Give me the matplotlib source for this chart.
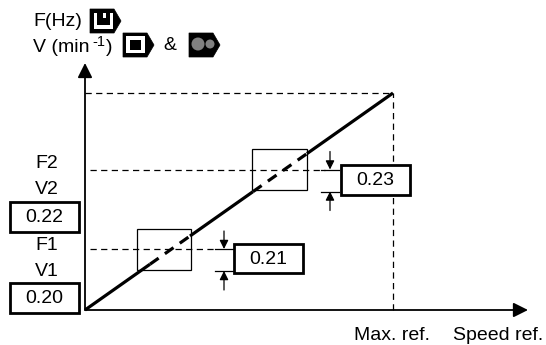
import matplotlib
matplotlib.use("Agg")
import matplotlib.pyplot as plt
from matplotlib.patches import Rectangle, Polygon, Circle

plt.rcParams['font.family'] = ['Liberation Sans', 'DejaVu Sans']

# Values measured from the origin of the chart, in picture pixels
max_ref = 308
max_out = 217
f1_level = 61
f2_level = 140.5
line_cuts = [0, 65, 105, 168, 222, 308]   # solid / dashed / solid / dashed / solid
param_f1v1 = "0.20"
param_f2v2 = "0.22"
param_lower = "0.21"
param_upper = "0.23"
left_labels = ["F2", "V2", "F1", "V1"]

slope = max_out / max_ref

fig = plt.figure(figsize=(5.46, 3.45), dpi=100)
ax = fig.add_axes([0, 0, 1, 1])
ax.set_xlim(-85, 461)
ax.set_ylim(-35, 310)
ax.axis('off')

TXT = 14


def arrow(x0, y0, x1, y1, lw=1.2, ms=14):
    ax.annotate("", xy=(x1, y1), xytext=(x0, y0),
                arrowprops=dict(arrowstyle="-|>", color='black', lw=lw,
                                mutation_scale=ms, shrinkA=0, shrinkB=0))


def value_box(x, y, w, h, txt):
    ax.add_patch(Rectangle((x, y), w, h, fc='white', ec='black', lw=2, zorder=4))
    ax.text(x + w / 2, y + h / 2 - 0.5, txt, ha='center', va='center', fontsize=TXT, zorder=5)


def flag(x, y, face):
    # pentagon shaped key symbol
    w, h, tip = 31, 24, 7
    ax.add_patch(Polygon([(x, y), (x + w - tip, y), (x + w, y + h / 2),
                          (x + w - tip, y + h), (x, y + h)], closed=True,
                         fc=face, ec='black', lw=0.5, zorder=3))


# axes
arrow(0, 0, 443, 0, lw=1.3, ms=22)
arrow(0, 0, 0, 247, lw=1.3, ms=22)

# dashed guides
ax.plot([0, max_ref], [max_out, max_out], color='black', lw=0.9, ls=(0, (5, 3.5)))
ax.plot([max_ref, max_ref], [0, max_out], color='black', lw=0.9, ls=(0, (5, 3.5)))
ax.plot([5, 131], [f1_level, f1_level], color='black', lw=0.9, ls=(0, (5, 3.5)))
ax.plot([5, 240], [f2_level, f2_level], color='black', lw=0.9, ls=(0, (5, 3.5)))

# hysteresis boxes around the skip levels
for level, x0 in [(f1_level, 51.5), (f2_level, 167)]:
    ax.add_patch(Rectangle((x0, level - 20.5), 54.5, 41, fc='none', ec='black', lw=0.9, zorder=2))

# speed curve, solid and dashed parts
for i in range(len(line_cuts) - 1):
    xs = [line_cuts[i], line_cuts[i + 1]]
    ys = [slope * xs[0], slope * xs[1]]
    if i % 2 == 0:
        ax.plot(xs, ys, color='black', lw=2.3, solid_capstyle='butt', zorder=3)
    else:
        ax.plot(xs, ys, color='black', lw=2.3, ls=(0, (3.3, 2.4)), zorder=3)

# dimension marks
for level, x in [(f1_level, 139), (f2_level, 245)]:
    low = level - 22
    ax.plot([x - 9, x + 9], [level, level], color='black', lw=0.9)
    ax.plot([x - 9, x + 9], [low, low], color='black', lw=0.9)
    arrow(x, level + 18, x, level, lw=0.9, ms=13)
    arrow(x, low - 19, x, low, lw=0.9, ms=13)

# parameter boxes
value_box(-75, -3, 69, 30, param_f1v1)
value_box(-75, 78, 69, 30, param_f2v2)
value_box(149, 37, 69, 29, param_lower)
value_box(256, 115, 69, 30, param_upper)

for txt, y in zip(left_labels, [146, 121, 64, 39]):
    ax.text(-38, y, txt, ha='center', va='center', fontsize=TXT)

# axis captions
ax.text(307, -26, "Max. ref.", ha='center', va='center', fontsize=TXT)
ax.text(413, -26, "Speed ref.", ha='center', va='center', fontsize=TXT)
ax.text(-52, 288, "F(Hz)", ha='left', va='center', fontsize=TXT)
ax.text(-52, 262, "V (min", ha='left', va='center', fontsize=TXT)
ax.text(7, 268, "-1", ha='left', va='center', fontsize=10.5)
ax.text(21, 262, ")", ha='left', va='center', fontsize=TXT)
ax.text(78, 264, "&", ha='left', va='center', fontsize=TXT)

# key symbols
flag(5, 277, 'black')
ax.add_patch(Rectangle((9, 281), 19, 16.5, fc='white', ec='none', zorder=4))
ax.add_patch(Rectangle((12, 285), 13, 12.5, fc='black', ec='none', zorder=5))
ax.add_patch(Rectangle((18, 292), 2.5, 5.5, fc='white', ec='none', zorder=6))

flag(38, 253, 'black')
ax.add_patch(Rectangle((41, 257), 19, 17, fc='white', ec='none', zorder=4))
ax.add_patch(Rectangle((45, 260), 11, 10.5, fc='black', ec='none', zorder=5))

flag(104, 253, 'black')
ax.add_patch(Circle((113, 266), 6.5, fc='#808080', ec='none', zorder=4))
ax.add_patch(Circle((125, 266), 4.5, fc='#808080', ec='none', zorder=4))

fig.savefig("out.png", dpi=100)
